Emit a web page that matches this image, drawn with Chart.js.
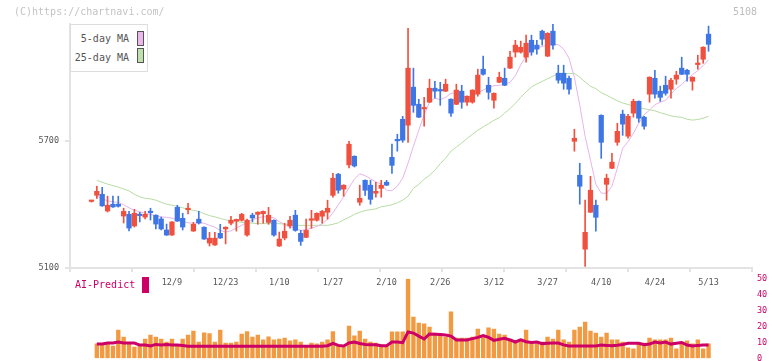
<!DOCTYPE html>
<html>
<head>
<meta charset="utf-8">
<script src="https://cdn.jsdelivr.net/npm/chart.js@4.4.1/dist/chart.umd.min.js"></script>
<style>
    body { margin: 0; background: #fff; width: 772px; height: 361px; overflow: hidden; position: relative; font-family: "DejaVu Sans Mono", monospace; }
    canvas { position: absolute; left: 0; }
    #price { top: 0; }
    #vol { top: 270px; }
    .txt { position: absolute; white-space: nowrap; font-size: 10px; line-height: 12px; }
    .legend { position: absolute; left: 70px; top: 24px; width: 76px; height: 46px; border: 1px solid #ddd; background: #fff; }
    .swatch { position: absolute; box-sizing: border-box; width: 7px; height: 15px; border: 1px solid #555; }
</style>
</head>
<body>
<canvas id="price" width="772" height="300"></canvas>
<canvas id="vol" width="772" height="100"></canvas>

<div class="txt" style="left:14px;top:6px;color:#c4c4c4;">(C)https://chartnavi.com/</div>
<div class="txt" style="left:733px;top:6px;color:#bdbdbd;">5108</div>

<div class="legend">
    <div class="txt" style="right:18px;top:8px;color:#555;">5-day MA</div>
    <div class="swatch" style="left:66px;top:6px;background:#ecb8ec;"></div>
    <div class="txt" style="right:18px;top:27px;color:#555;">25-day MA</div>
    <div class="swatch" style="left:66px;top:23px;background:#bfe0ad;"></div>
</div>

<div class="txt" style="left:75px;top:279px;color:#cc0066;">AI-Predict</div>
<div style="position:absolute;left:142px;top:277px;width:7px;height:16px;background:#cc0066;"></div>

<script>
// date labels on the x axis (index of the trading day)
const dateLabels = ["12/9", "12/23", "1/10", "1/27", "2/10", "2/26", "3/12", "3/27", "4/10", "4/24", "5/13"];
const dateIndex = [15, 25, 35, 45, 55, 65, 75, 85, 95, 105, 115];

// price ticks
const priceTicks = [5100, 5700];
const volumeTicks = [0, 10, 20, 30, 40, 50];

// daily candles
const open = [
    5415, 5444, 5449, 5370, 5402, 5402, 5346, 5354, 5299, 5352,
    5341, 5366, 5350, 5332, 5280, 5256, 5387, 5335, 5376, 5275,
    5331, 5293, 5218, 5209, 5264, 5285, 5312, 5322, 5326, 5256,
    5350, 5354, 5357, 5316, 5326, 5204, 5242, 5299, 5350, 5264,
    5245, 5326, 5326, 5345, 5364, 5444, 5544, 5473, 5588, 5629,
    5411, 5515, 5492, 5454, 5477, 5506, 5624, 5707, 5804, 5776,
    5956, 5875, 5853, 5885, 5951, 5942, 5937, 5899, 5875, 5937,
    5885, 5885, 5923, 6041, 5965, 5894, 5979, 5998, 6046, 6122,
    6122, 6098, 6178, 6155, 6221, 6103, 6221, 6022, 6022, 5998,
    5700, 5539, 5189, 5364, 5397, 5823, 5496, 5572, 5695, 5828,
    5724, 5833, 5889, 5814, 5923, 5998, 5937, 5965, 5946, 5994,
    6046, 6036, 5984, 6063, 6088, 6207
];
const high = [
    5420, 5487, 5482, 5440, 5440, 5440, 5383, 5368, 5378, 5364,
    5368, 5383, 5352, 5341, 5308, 5320, 5397, 5359, 5406, 5316,
    5368, 5295, 5269, 5269, 5307, 5295, 5345, 5332, 5359, 5331,
    5359, 5366, 5370, 5387, 5328, 5270, 5312, 5345, 5373, 5278,
    5331, 5373, 5361, 5373, 5421, 5548, 5548, 5494, 5700, 5631,
    5492, 5517, 5515, 5506, 5515, 5515, 5686, 5733, 5818, 6235,
    6046, 5899, 5908, 5994, 5984, 5979, 5994, 5901, 5970, 5965,
    5915, 5944, 6041, 6103, 6003, 5929, 6027, 6046, 6126, 6178,
    6174, 6202, 6202, 6178, 6226, 6214, 6254, 6060, 6060, 6008,
    5757, 5596, 5421, 5534, 5421, 5825, 5544, 5643, 5785, 5847,
    5828, 5899, 5891, 5818, 6005, 6036, 5961, 6008, 5998, 6031,
    6098, 6041, 6005, 6107, 6147, 6245
];
const low = [
    5412, 5429, 5392, 5365, 5387, 5388, 5313, 5275, 5294, 5318,
    5332, 5327, 5285, 5280, 5254, 5254, 5320, 5280, 5356, 5273,
    5308, 5235, 5204, 5207, 5240, 5214, 5304, 5275, 5322, 5251,
    5318, 5307, 5312, 5307, 5251, 5202, 5233, 5289, 5274, 5207,
    5243, 5288, 5322, 5312, 5331, 5435, 5454, 5440, 5574, 5578,
    5397, 5444, 5402, 5435, 5435, 5490, 5548, 5653, 5695, 5695,
    5837, 5812, 5771, 5883, 5904, 5870, 5935, 5818, 5873, 5856,
    5870, 5880, 5913, 6013, 5899, 5856, 5977, 5963, 6044, 6098,
    6117, 6074, 6107, 6112, 6155, 6100, 6136, 5975, 5946, 5923,
    5653, 5402, 5108, 5362, 5274, 5619, 5421, 5570, 5681, 5728,
    5714, 5814, 5790, 5757, 5885, 5904, 5889, 5918, 5904, 5970,
    6015, 5984, 5942, 6041, 6069, 6126
];
const close = [
    5418, 5463, 5394, 5397, 5389, 5392, 5368, 5289, 5359, 5348,
    5354, 5362, 5308, 5285, 5256, 5318, 5322, 5294, 5380, 5307,
    5313, 5237, 5241, 5241, 5242, 5293, 5326, 5330, 5354, 5326,
    5337, 5364, 5368, 5350, 5256, 5237, 5274, 5326, 5278, 5226,
    5278, 5331, 5359, 5368, 5383, 5525, 5468, 5492, 5686, 5583,
    5430, 5468, 5425, 5463, 5492, 5492, 5586, 5702, 5705, 6046,
    5870, 5814, 5858, 5951, 5937, 5938, 5970, 5833, 5942, 5885,
    5913, 5942, 6013, 6017, 5932, 5927, 6003, 5965, 6098, 6155,
    6145, 6164, 6122, 6136, 6183, 6211, 6155, 5989, 5975, 5946,
    5714, 5487, 5269, 5468, 5340, 5695, 5525, 5601, 5747, 5781,
    5818, 5889, 5809, 5771, 6003, 5923, 5908, 5927, 5989, 6013,
    6017, 6017, 6003, 6067, 6145, 6159
];

// moving averages as drawn
const ma5 = [
    null,
    5440, 5428, 5418, 5413, 5411, 5399, 5385, 5373, 5366, 5359,
    5354, 5347, 5342, 5340, 5336, 5328, 5321, 5314, 5312, 5314,
    5312, 5302, 5293, 5278, 5270, 5276, 5290, 5302, 5316, 5328,
    5338, 5343, 5342, 5338, 5319, 5307, 5295, 5286, 5278, 5281,
    5288, 5297, 5309, 5331, 5361, 5399, 5437, 5480, 5520, 5546,
    5537, 5522, 5508, 5496, 5468, 5466, 5487, 5525, 5596, 5676,
    5752, 5826, 5885, 5904, 5897, 5908, 5927, 5930, 5918, 5908,
    5913, 5930, 5942, 5956, 5963, 5965, 5970, 5979, 6010, 6062,
    6103, 6129, 6143, 6148, 6155, 6159, 6157, 6136, 6093, 6003,
    5871, 5724, 5610, 5496, 5454, 5454, 5487, 5572, 5667, 5698,
    5738, 5785, 5826, 5847, 5873, 5885, 5894, 5923, 5950, 5968,
    5994, 6015, 6034, 6058, 6086
];
const ma25 = [
    null,
    5515, 5506, 5497, 5490, 5483, 5474, 5465, 5449, 5437, 5430,
    5427, 5421, 5411, 5402, 5397, 5392, 5385, 5378, 5373, 5368,
    5357, 5348, 5342, 5335, 5328, 5324, 5321, 5316, 5314, 5312,
    5310, 5310, 5310, 5310, 5310, 5307, 5305, 5302, 5302, 5302,
    5302, 5302, 5302, 5302, 5307, 5314, 5328, 5340, 5354, 5364,
    5372, 5376, 5380, 5390, 5394, 5399, 5409, 5421, 5440, 5477,
    5496, 5520, 5539, 5563, 5594, 5620, 5653, 5672, 5692, 5713,
    5733, 5752, 5768, 5783, 5799, 5811, 5833, 5854, 5880, 5908,
    5934, 5957, 5971, 5983, 5996, 6008, 6021, 6021, 6021, 6021,
    6003, 5981, 5960, 5949, 5930, 5918, 5904, 5892, 5881, 5874,
    5866, 5859, 5854, 5849, 5844, 5835, 5828, 5820, 5816, 5813,
    5804, 5800, 5803, 5809, 5818
];

// lower panel
const volume = [
    null,
    9.1, 9.1, 9.1, 7.8, 17.8, 13.4, 9.1, 7.2, 7.8, 12.2,
    14.7, 13.4, 12.2, 10.3, 12.2, 8.4, 12.2, 14.7, 17.2, 10.3,
    16.1, 15.5, 10.3, 17.8, 9.7, 9.7, 10.3, 15.3, 16.8, 13.4,
    14.7, 11.6, 13.6, 11.6, 12.2, 12.8, 11.0, 11.6, 10.3, 7.8,
    9.7, 9.1, 10.3, 11.6, 16.8, 8.4, 7.8, 20.3, 14.1, 17.2,
    12.2, 10.3, 9.7, 8.4, 7.8, 16.6, 16.6, 16.6, 49.7, 25.9,
    22.2, 21.6, 19.7, 15.9, 15.3, 13.4, 29.1, 12.8, 12.8, 12.8,
    13.4, 18.4, 14.1, 19.1, 18.4, 15.3, 14.7, 12.2, 10.3, 12.2,
    17.8, 10.3, 9.1, 10.3, 13.4, 12.2, 17.8, 11.6, 10.3, 17.8,
    19.7, 22.8, 17.2, 15.9, 13.4, 15.9, 11.6, 11.6, 10.3, 6.6,
    6.0, 9.7, 9.7, 12.8, 11.6, 11.6, 11.6, 12.8, 6.0, 10.3,
    11.0, 9.1, 11.6, 6.0, 9.1
];
const aiPredict = [
    null,
    9.1, 9.1, 9.7, 9.7, 10.3, 9.7, 9.7, 9.7, 8.4, 8.4,
    7.8, 8.8, 8.4, 8.8, 8.4, 8.4, 8.1, 7.7, 7.7, 7.7,
    7.7, 7.7, 7.7, 7.7, 7.7, 7.7, 7.7, 7.7, 7.7, 7.7,
    7.7, 7.7, 7.7, 7.7, 7.7, 7.7, 7.7, 7.7, 7.7, 7.7,
    7.7, 7.7, 7.7, 8.0, 9.4, 8.2, 7.8, 9.7, 10.3, 9.4,
    8.8, 8.6, 8.6, 8.0, 8.0, 10.3, 10.3, 9.9, 16.6, 15.9,
    14.0, 12.2, 15.3, 15.2, 15.0, 14.7, 14.0, 11.6, 11.6, 11.6,
    12.4, 13.2, 14.3, 13.2, 11.3, 12.0, 12.6, 11.6, 10.3, 11.6,
    10.5, 10.0, 10.3, 9.3, 9.5, 9.7, 9.7, 8.5, 7.8, 7.8,
    7.8, 7.8, 7.8, 7.8, 8.4, 8.2, 7.9, 8.3, 8.8, 9.5,
    9.5, 9.5, 8.6, 9.0, 10.3, 9.7, 10.3, 9.0, 9.5, 10.0,
    8.4, 7.8, 8.2, 8.4, 8.4
];

const mono = "'DejaVu Sans Mono', monospace";
const axisGray = "#e3e3e3";
const xMin = -4.0;
const xMax = 123.1;

const idx = open.map((_, i) => i);
const candleColors = idx.map(i => close[i] >= open[i] ? "#f0513f" : "#3f76e6");

//price chart
new Chart(document.getElementById("price"), {
    type: "bar",
    data: {
        datasets: [
            {
                label: "body",
                data: idx.map(i => ({ x: i, y: [open[i], close[i]] })),
                backgroundColor: candleColors,
                barThickness: 4.6,
                minBarLength: 1.5,
                grouped: false,
                order: 0
            },
            {
                label: "wick",
                data: idx.map(i => ({ x: i, y: [low[i], high[i]] })),
                backgroundColor: candleColors,
                barThickness: 1,
                minBarLength: 1,
                grouped: false,
                order: 1
            },
            {
                type: "line",
                label: "5-day MA",
                data: idx.map(i => ({ x: i, y: ma5[i] })),
                borderColor: "#e8b3ea",
                borderWidth: 1,
                pointRadius: 0,
                order: 2
            },
            {
                type: "line",
                label: "25-day MA",
                data: idx.map(i => ({ x: i, y: ma25[i] })),
                borderColor: "#b6dca3",
                borderWidth: 1,
                pointRadius: 0,
                order: 3
            }
        ]
    },
    options: {
        responsive: false,
        animation: false,
        events: [],
        layout: { padding: { top: 24, right: 20, left: 0, bottom: 0 } },
        plugins: { legend: { display: false }, tooltip: { enabled: false } },
        scales: {
            x: {
                type: "linear",
                position: "bottom",
                min: xMin,
                max: xMax,
                offset: false,
                weight: 0,
                afterBuildTicks: (s) => {
                    s.ticks = Array.from({ length: 12 }, (_, k) => ({ value: xMin + k * (xMax - xMin) / 11 }));
                },
                afterFit: (s) => { s.height = 4; },
                grid: { drawOnChartArea: false, drawTicks: true, tickLength: 4, color: axisGray, lineWidth: 2, offset: false },
                border: { color: axisGray, width: 2 },
                ticks: { display: false }
            },
            xl: {
                type: "linear",
                position: "bottom",
                min: xMin,
                max: xMax,
                offset: false,
                weight: 1,
                afterBuildTicks: (s) => {
                    s.ticks = dateIndex.map(v => ({ value: v }));
                },
                afterFit: (s) => { s.height = 28; },
                grid: { display: false, drawTicks: false },
                border: { display: false },
                ticks: {
                    autoSkip: false,
                    maxRotation: 0,
                    padding: 6,
                    color: "#555",
                    font: { family: mono, size: 8.5 },
                    callback: (v, i) => dateLabels[i]
                }
            },
            y: {
                type: "linear",
                position: "left",
                min: 5100,
                max: 6255,
                afterBuildTicks: (s) => {
                    s.ticks = priceTicks.map(v => ({ value: v }));
                },
                afterFit: (s) => { s.width = 70; },
                grid: { drawOnChartArea: false, tickLength: 5, color: axisGray, lineWidth: 2 },
                border: { color: axisGray, width: 2 },
                ticks: { padding: 6, color: "#555", font: { family: mono, size: 8.5 }, callback: (v) => String(v) }
            }
        }
    }
});

//volume + AI-Predict chart
new Chart(document.getElementById("vol"), {
    type: "bar",
    data: {
        datasets: [
            {
                type: "line",
                label: "AI-Predict",
                data: idx.map(i => ({ x: i, y: aiPredict[i] })),
                borderColor: "#cc0066",
                borderWidth: 3,
                pointRadius: 0,
                order: 0
            },
            {
                label: "volume",
                data: idx.map(i => ({ x: i, y: volume[i] })),
                backgroundColor: "#f29a42",
                barThickness: 3.7,
                grouped: false,
                order: 1
            }
        ]
    },
    options: {
        responsive: false,
        animation: false,
        events: [],
        // canvas runs past the window bottom so the zero line sits at y=358.5
        layout: { padding: { top: 8.5, right: 0, left: 70, bottom: 11.5 } },
        plugins: { legend: { display: false }, tooltip: { enabled: false } },
        scales: {
            x: { type: "linear", min: xMin, max: xMax, offset: false, display: false },
            y: {
                position: "right",
                min: 0,
                max: 50,
                afterBuildTicks: (s) => {
                    s.ticks = volumeTicks.map(v => ({ value: v }));
                },
                afterFit: (s) => { s.width = 20; },
                grid: { display: true, drawOnChartArea: false, drawTicks: true, tickLength: 5, color: "rgba(0,0,0,0)" },
                border: { display: false },
                ticks: { padding: 0, color: "#cc0066", font: { family: mono, size: 8.5 } }
            }
        }
    }
});
</script>
</body>
</html>
